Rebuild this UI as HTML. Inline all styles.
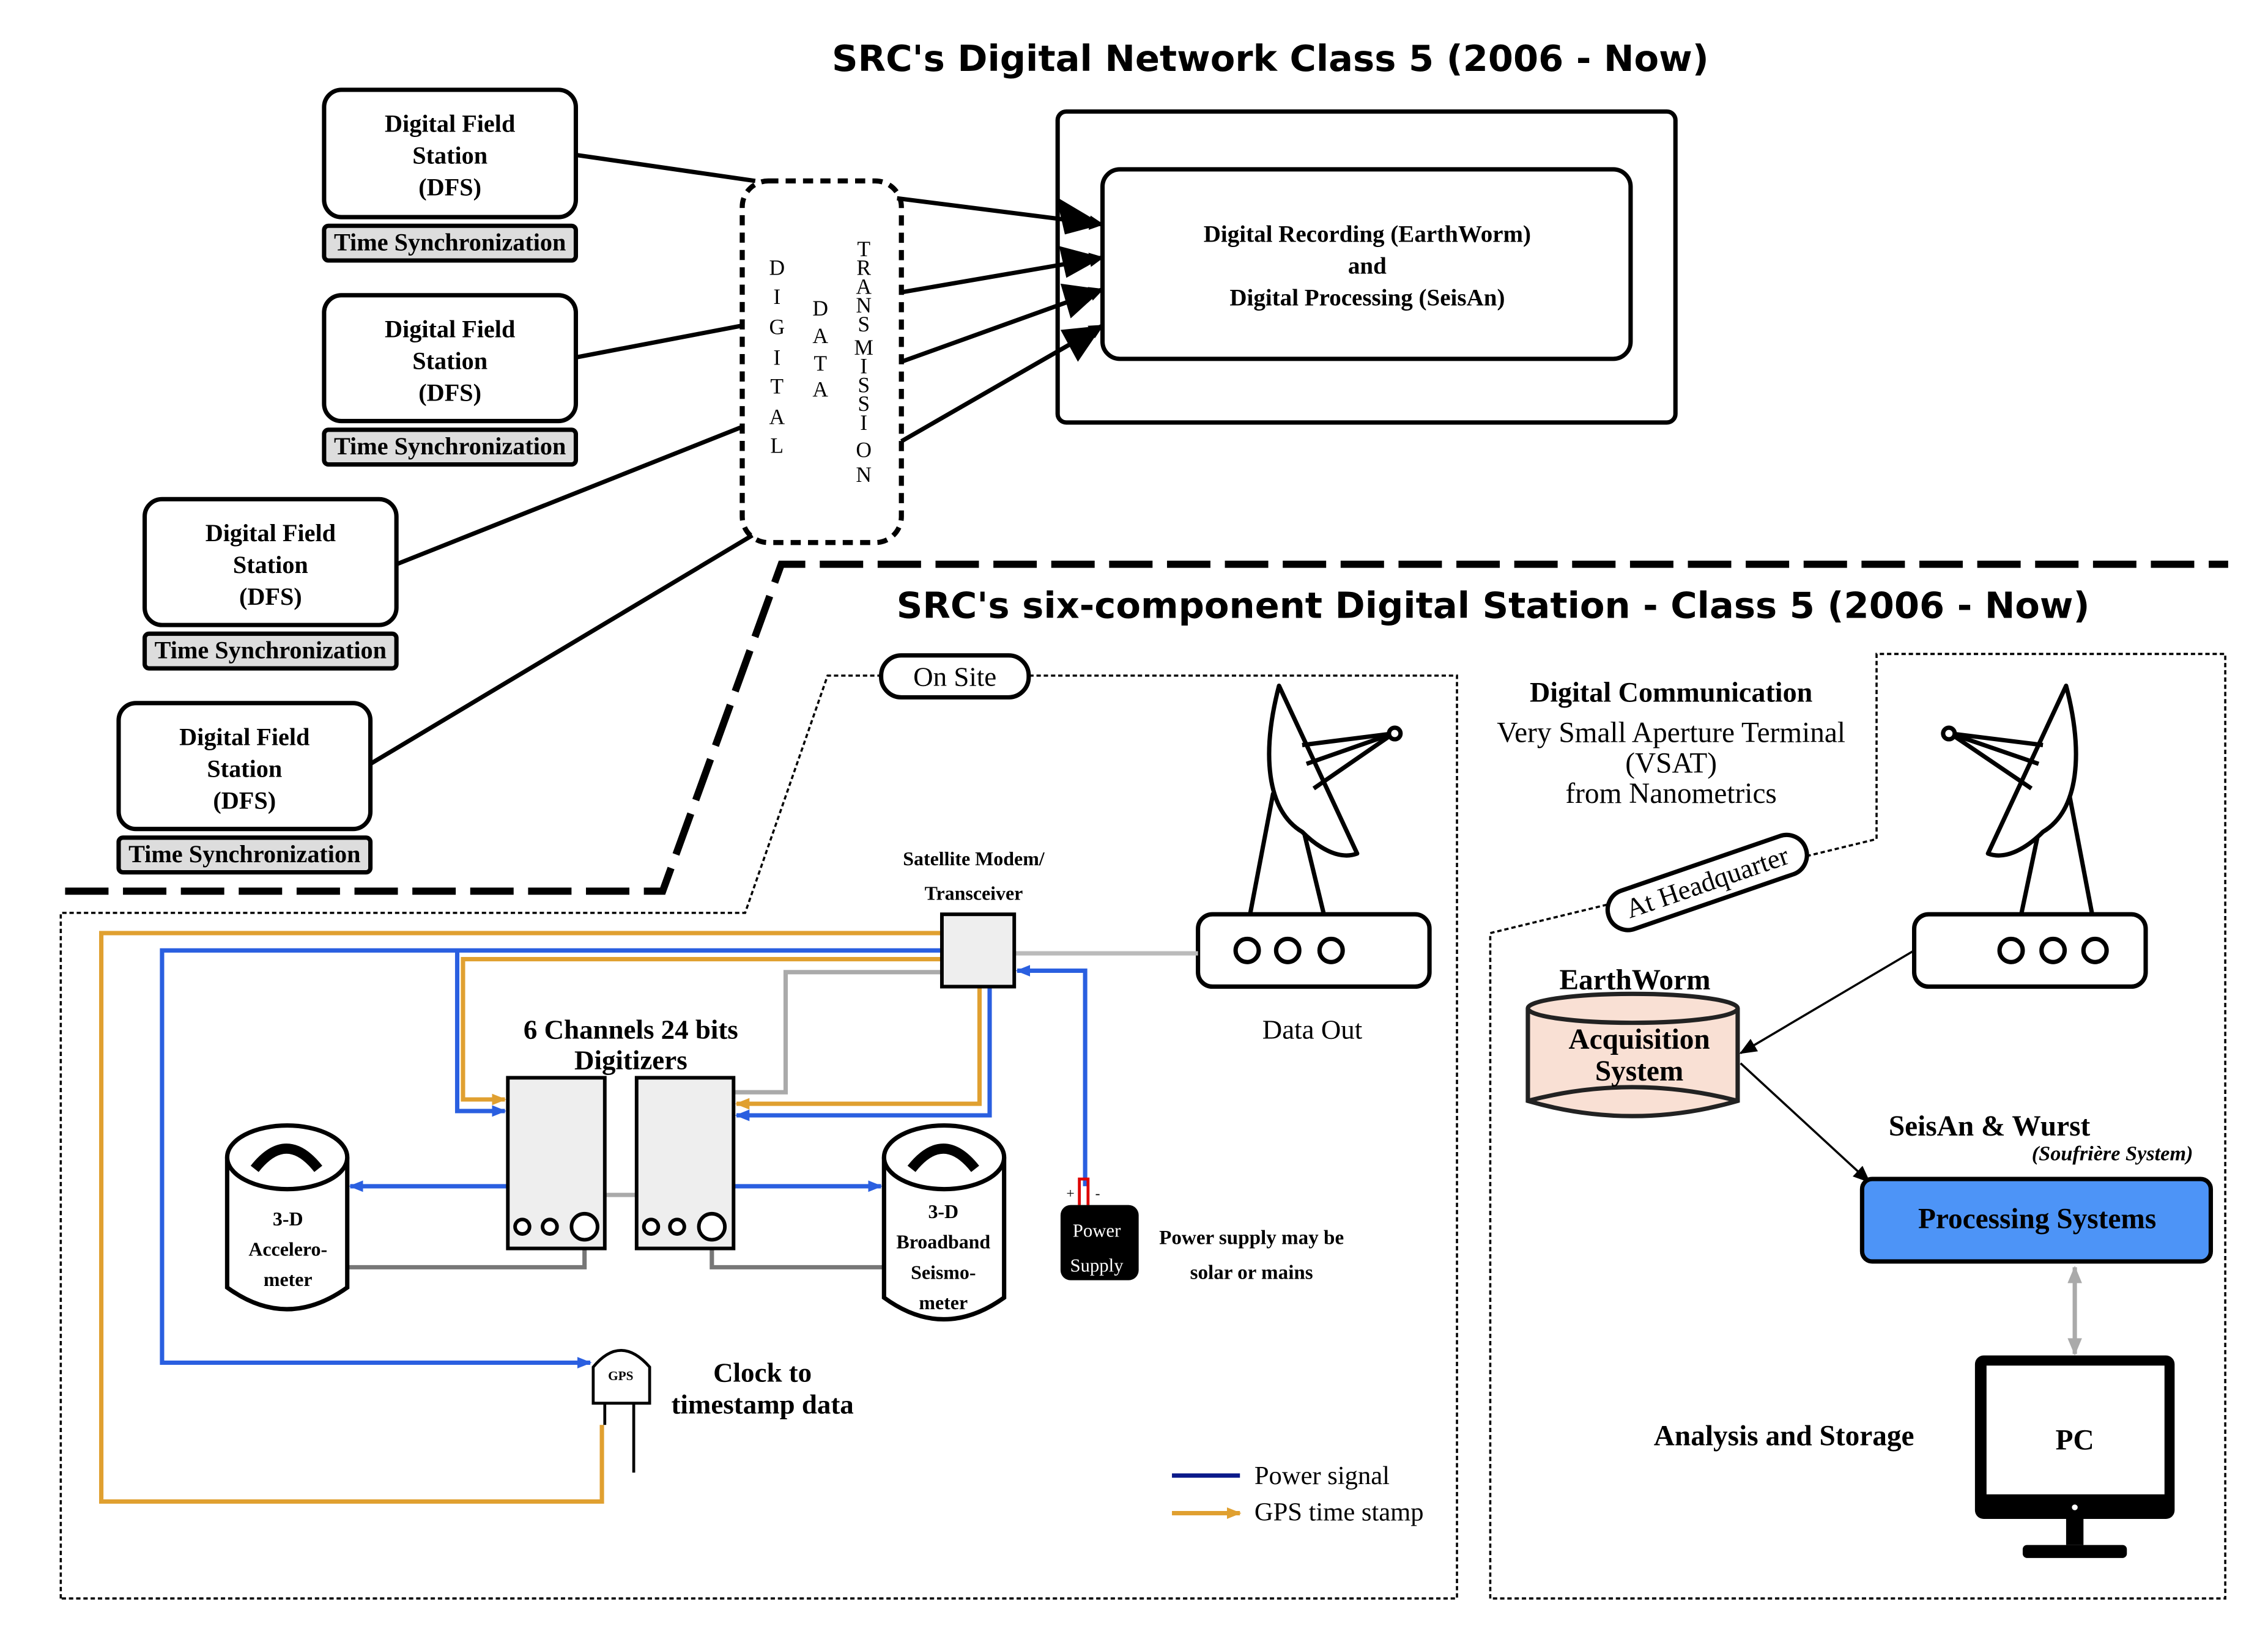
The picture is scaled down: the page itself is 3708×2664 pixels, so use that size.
<!DOCTYPE html>
<html><head><meta charset="utf-8"><style>
html,body{margin:0;padding:0;background:#fff;}
svg{display:block;}
.s{font-family:"Liberation Serif",serif;}
.b{font-weight:bold;}
.t{font-family:"DejaVu Sans","Liberation Sans",sans-serif;font-weight:bold;}
</style></head><body>
<svg width="3708" height="2664" viewBox="0 0 1555 1117" xmlns="http://www.w3.org/2000/svg">
<defs>
<marker id="big" markerWidth="10" markerHeight="10" refX="9" refY="5" orient="auto" markerUnits="userSpaceOnUse" viewBox="0 0 10 10"><path d="M0,0 L10,5 L0,10 z" fill="#000"/></marker>
<marker id="ab" markerWidth="10" markerHeight="8" refX="9" refY="4" orient="auto" markerUnits="userSpaceOnUse"><path d="M0,0 L10,4 L0,8 z" fill="#2a5fe0"/></marker>
<marker id="ao" markerWidth="10" markerHeight="8" refX="9" refY="4" orient="auto" markerUnits="userSpaceOnUse"><path d="M0,0 L10,4 L0,8 z" fill="#e0a030"/></marker>
<marker id="ak" markerWidth="12" markerHeight="10" refX="11" refY="5" orient="auto" markerUnits="userSpaceOnUse"><path d="M0,0 L12,5 L0,10 z" fill="#000"/></marker>
<marker id="ag" markerWidth="12" markerHeight="10" refX="11" refY="5" orient="auto-start-reverse" markerUnits="userSpaceOnUse"><path d="M0,0 L12,5 L0,10 z" fill="#aaa"/></marker>
</defs>
<g transform="scale(0.992)">
<text x="878" y="49" text-anchor="middle" class="t" font-size="25">SRC's Digital Network Class 5 (2006 - Now)</text>

<g class="s b" font-size="17" text-anchor="middle">
<rect x="224" y="62" width="174" height="88" rx="12" fill="#fff" stroke="#000" stroke-width="3"/>
<text x="311" y="91">Digital Field</text><text x="311" y="113">Station</text><text x="311" y="135">(DFS)</text>
<rect x="224" y="156" width="174" height="24" rx="3" fill="#ddd" stroke="#000" stroke-width="3"/>
<text x="311" y="173">Time Synchronization</text>

<rect x="224" y="204" width="174" height="87" rx="12" fill="#fff" stroke="#000" stroke-width="3"/>
<text x="311" y="233">Digital Field</text><text x="311" y="255">Station</text><text x="311" y="277">(DFS)</text>
<rect x="224" y="297" width="174" height="24" rx="3" fill="#ddd" stroke="#000" stroke-width="3"/>
<text x="311" y="314">Time Synchronization</text>

<rect x="100" y="345" width="174" height="87" rx="12" fill="#fff" stroke="#000" stroke-width="3"/>
<text x="187" y="374">Digital Field</text><text x="187" y="396">Station</text><text x="187" y="418">(DFS)</text>
<rect x="100" y="438" width="174" height="24" rx="3" fill="#ddd" stroke="#000" stroke-width="3"/>
<text x="187" y="455">Time Synchronization</text>

<rect x="82" y="486" width="174" height="87" rx="12" fill="#fff" stroke="#000" stroke-width="3"/>
<text x="169" y="515">Digital Field</text><text x="169" y="537">Station</text><text x="169" y="559">(DFS)</text>
<rect x="82" y="579" width="174" height="24" rx="3" fill="#ddd" stroke="#000" stroke-width="3"/>
<text x="169" y="596">Time Synchronization</text>
</g>

<rect x="513" y="125" width="110" height="250" rx="18" fill="none" stroke="#000" stroke-width="3.5" stroke-dasharray="7,5"/>
<g class="s" font-size="15" text-anchor="middle">
<text x="537" y="190">D</text><text x="537" y="210">I</text><text x="537" y="231">G</text><text x="537" y="252">I</text><text x="537" y="272">T</text><text x="537" y="293">A</text><text x="537" y="313">L</text>
<text x="567" y="218">D</text><text x="567" y="237">A</text><text x="567" y="256">T</text><text x="567" y="274">A</text>
<text x="597" y="177">T</text><text x="597" y="190">R</text><text x="597" y="203">A</text><text x="597" y="216">N</text><text x="597" y="229">S</text><text x="597" y="245">M</text><text x="597" y="258">I</text><text x="597" y="271">S</text><text x="597" y="284">S</text><text x="597" y="297">I</text><text x="597" y="316">O</text><text x="597" y="333">N</text>
</g>

<g stroke="#000" stroke-width="3" fill="none">
<line x1="398" y1="107" x2="522" y2="125"/>
<line x1="398" y1="247" x2="513" y2="225"/>
<line x1="274" y1="390" x2="513" y2="295"/>
<line x1="256" y1="528" x2="520" y2="370"/>
<line x1="620" y1="137" x2="762" y2="155" marker-end="url(#big)"/>
<line x1="623" y1="202" x2="762" y2="178" marker-end="url(#big)"/>
<line x1="623" y1="250" x2="762" y2="200" marker-end="url(#big)"/>
<line x1="623" y1="305" x2="762" y2="225" marker-end="url(#big)"/>
</g>
<g>
<polygon points="762,155 730,136 736,162" fill="#000"/>
<polygon points="762,178 732,170 737,192" fill="#000"/>
<polygon points="762,200 733,196 740,220" fill="#000"/>
<polygon points="762,225 733,228 745,250" fill="#000"/>
</g>

<rect x="731" y="77" width="427" height="215" rx="6" fill="none" stroke="#000" stroke-width="3"/>
<rect x="762" y="117" width="365" height="131" rx="12" fill="#fff" stroke="#000" stroke-width="3"/>
<g class="s b" font-size="16.5" text-anchor="middle">
<text x="945" y="167">Digital Recording (EarthWorm)</text>
<text x="945" y="189">and</text>
<text x="945" y="211">Digital Processing (SeisAn)</text>
</g>

<polyline points="45,616 458,616 540,390 1540,390" fill="none" stroke="#000" stroke-width="5" stroke-dasharray="30,10"/>

<text x="1032" y="427" text-anchor="middle" class="t" font-size="25">SRC's six-component Digital Station - Class 5 (2006 - Now)</text>

<polygon points="42,1105 42,631 515,631 572,467 1007,467 1007,1105" fill="none" stroke="#000" stroke-width="1.5" stroke-dasharray="3,2"/>
<polygon points="1030,1105 1030,645 1297,580 1297,452 1538,452 1538,1105" fill="none" stroke="#000" stroke-width="1.5" stroke-dasharray="3,2"/>
<rect x="609" y="453" width="102" height="29" rx="14" fill="#fff" stroke="#000" stroke-width="3"/>
<text x="660" y="474" text-anchor="middle" class="s" font-size="19">On Site</text>
<g transform="translate(1180,610) rotate(-19)">
<rect x="-72" y="-14" width="144" height="28" rx="14" fill="#fff" stroke="#000" stroke-width="3"/>
<text x="0" y="6" text-anchor="middle" class="s" font-size="19">At Headquarter</text>
</g>

<g stroke="#000" stroke-width="3" fill="#fff" stroke-linejoin="round">
<line x1="880" y1="548" x2="864" y2="632"/>
<line x1="900" y1="570" x2="915" y2="632"/>
<path d="M884,474 C872,520 875,560 900,575 C910,585 925,595 938,590 Z"/>
<line x1="900" y1="515" x2="963" y2="507"/>
<line x1="903" y1="528" x2="963" y2="507"/>
<line x1="908" y1="545" x2="963" y2="507"/>
<circle cx="964" cy="507" r="4"/>
<rect x="828" y="632" width="160" height="50" rx="10"/>
<circle cx="862" cy="657" r="8"/><circle cx="890" cy="657" r="8"/><circle cx="920" cy="657" r="8"/>
</g>
<text x="907" y="718" text-anchor="middle" class="s" font-size="19">Data Out</text>

<g stroke="#000" stroke-width="3" fill="#fff" stroke-linejoin="round">
<line x1="1430" y1="548" x2="1446" y2="632"/>
<line x1="1410" y1="570" x2="1397" y2="632"/>
<path d="M1428,474 C1440,520 1437,560 1412,575 C1402,585 1387,595 1374,590 Z"/>
<line x1="1412" y1="515" x2="1348" y2="507"/>
<line x1="1409" y1="528" x2="1348" y2="507"/>
<line x1="1404" y1="545" x2="1348" y2="507"/>
<circle cx="1347" cy="507" r="4"/>
<rect x="1323" y="632" width="160" height="50" rx="10"/>
<circle cx="1390" cy="657" r="8"/><circle cx="1419" cy="657" r="8"/><circle cx="1448" cy="657" r="8"/>
</g>

<g fill="none" stroke-width="3">
<polyline points="416,985 416,1038 70,1038 70,645 651,645" stroke="#e0a030"/>
<polyline points="651,663 320,663 320,760 349,760" stroke="#e0a030" marker-end="url(#ao)"/>
<polyline points="677,682 677,763 509,763" stroke="#e0a030" marker-end="url(#ao)"/>
<polyline points="651,657 112,657 112,942 408,942" stroke="#2a5fe0" marker-end="url(#ab)"/>
<polyline points="316,657 316,768 349,768" stroke="#2a5fe0" marker-end="url(#ab)"/>
<polyline points="684,682 684,771 509,771" stroke="#2a5fe0" marker-end="url(#ab)"/>
<polyline points="750,820 750,671 703,671" stroke="#2a5fe0" marker-end="url(#ab)"/>
<line x1="351" y1="820" x2="242" y2="820" stroke="#2a5fe0" marker-end="url(#ab)"/>
<line x1="507" y1="820" x2="609" y2="820" stroke="#2a5fe0" marker-end="url(#ab)"/>
<polyline points="651,672 543,672 543,755 507,755" stroke="#aaa"/>
<line x1="701" y1="659" x2="828" y2="659" stroke="#bbb"/>
<polyline points="380,843 380,826 450,826 450,843" stroke="#aaa"/>
<polyline points="240,876 404,876 404,858" stroke="#777"/>
<polyline points="492,858 492,876 611,876" stroke="#777"/>
</g>

<rect x="651" y="632" width="50" height="50" fill="#eee" stroke="#000" stroke-width="2.5"/>
<g class="s b" font-size="13.5" text-anchor="middle">
<text x="673" y="598">Satellite Modem/</text><text x="673" y="622">Transceiver</text>
</g>

<text x="436" y="718" text-anchor="middle" class="s b" font-size="19">6 Channels 24 bits</text>
<text x="436" y="739" text-anchor="middle" class="s b" font-size="19">Digitizers</text>
<g stroke="#000" stroke-width="2.5" fill="#eee">
<rect x="351" y="745" width="67" height="118"/>
<rect x="440" y="745" width="67" height="118"/>
<circle cx="361" cy="848" r="5" fill="#fff"/><circle cx="380" cy="848" r="5" fill="#fff"/><circle cx="404" cy="848" r="9" fill="#fff"/>
<circle cx="450" cy="848" r="5" fill="#fff"/><circle cx="468" cy="848" r="5" fill="#fff"/><circle cx="492" cy="848" r="9" fill="#fff"/>
</g>

<g stroke="#000" stroke-width="3" fill="#fff">
<path d="M157,800 L157,890 Q198,920 240,890 L240,800"/>
<ellipse cx="198.5" cy="800" rx="41.5" ry="22"/>
<path d="M176,808 Q198,780 220,808" stroke-width="7" fill="none"/>
<path d="M611,800 L611,897 Q652,927 694,897 L694,800"/>
<ellipse cx="652.5" cy="800" rx="41.5" ry="22"/>
<path d="M630,808 Q652,780 674,808" stroke-width="7" fill="none"/>
</g>
<g class="s b" font-size="13.5" text-anchor="middle">
<text x="199" y="847">3-D</text><text x="199" y="868">Accelero-</text><text x="199" y="889">meter</text>
<text x="652" y="842">3-D</text><text x="652" y="863">Broadband</text><text x="652" y="884">Seismo-</text><text x="652" y="905">meter</text>
</g>

<polyline points="746,833 746,815 752,815 752,833" fill="none" stroke="#d00" stroke-width="2"/>
<text x="737" y="828" class="s" font-size="10">+</text><text x="757" y="828" class="s" font-size="10">-</text>
<rect x="733" y="833" width="54" height="52" rx="7" fill="#000"/>
<text x="758" y="855" text-anchor="middle" class="s" font-size="13" fill="#fff">Power</text>
<text x="758" y="879" text-anchor="middle" class="s" font-size="13" fill="#fff">Supply</text>
<text x="865" y="860" text-anchor="middle" class="s b" font-size="14">Power supply may be</text>
<text x="865" y="884" text-anchor="middle" class="s b" font-size="14">solar or mains</text>

<g stroke="#000" stroke-width="2" fill="#fff">
<line x1="438" y1="968" x2="438" y2="1018"/>
<line x1="418" y1="968" x2="418" y2="985"/>
<path d="M410,970 L410,945 Q429,922 449,945 L449,970 Z"/>
</g>
<text x="429" y="954" text-anchor="middle" class="s b" font-size="9">GPS</text>
<text x="527" y="955" text-anchor="middle" class="s b" font-size="19">Clock to</text>
<text x="527" y="977" text-anchor="middle" class="s b" font-size="19">timestamp data</text>

<line x1="810" y1="1020" x2="857" y2="1020" stroke="#0a1a8a" stroke-width="3"/>
<line x1="810" y1="1046" x2="857" y2="1046" stroke="#e0a030" stroke-width="3" marker-end="url(#ao)"/>
<text x="867" y="1026" class="s" font-size="18">Power signal</text>
<text x="867" y="1051" class="s" font-size="18">GPS time stamp</text>

<text x="1155" y="485" text-anchor="middle" class="s b" font-size="19.5">Digital Communication</text>
<g class="s" font-size="20" text-anchor="middle">
<text x="1155" y="513">Very Small Aperture Terminal</text>
<text x="1155" y="534">(VSAT)</text>
<text x="1155" y="555">from Nanometrics</text>
</g>
<text x="1130" y="684" text-anchor="middle" class="s b" font-size="20">EarthWorm</text>
<g stroke="#222" stroke-width="3" fill="#f9e0d4">
<path d="M1056,697 L1056,761 Q1128,782 1201,761 L1201,697"/>
<ellipse cx="1128.5" cy="697" rx="72.5" ry="10"/>
<path d="M1056,761 Q1128,742 1201,761" fill="none"/>
</g>
<text x="1133" y="725" text-anchor="middle" class="s b" font-size="20">Acquisition</text>
<text x="1133" y="747" text-anchor="middle" class="s b" font-size="20">System</text>
<line x1="1323" y1="657" x2="1203" y2="728" stroke="#000" stroke-width="1.5" marker-end="url(#ak)"/>
<line x1="1203" y1="735" x2="1292" y2="817" stroke="#000" stroke-width="1.5" marker-end="url(#ak)"/>
<text x="1375" y="785" text-anchor="middle" class="s b" font-size="20">SeisAn &amp; Wurst</text>
<text x="1460" y="802" text-anchor="middle" class="s b" font-size="14.5" font-style="italic">(Soufrière System)</text>
<rect x="1287" y="815" width="241" height="57" rx="7" fill="#4d94f7" stroke="#000" stroke-width="3"/>
<text x="1408" y="849" text-anchor="middle" class="s b" font-size="20">Processing Systems</text>
<line x1="1434" y1="876" x2="1434" y2="936" stroke="#aaa" stroke-width="3" marker-start="url(#ag)" marker-end="url(#ag)"/>
<rect x="1365" y="937" width="138" height="113" rx="6" fill="#000"/>
<rect x="1373" y="944" width="123" height="89" fill="#fff"/>
<circle cx="1434" cy="1042" r="2" fill="#fff"/>
<rect x="1428" y="1050" width="12" height="18" fill="#000"/>
<rect x="1398" y="1068" width="72" height="9" rx="3" fill="#000"/>
<text x="1434" y="1002" text-anchor="middle" class="s b" font-size="20">PC</text>
<text x="1233" y="999" text-anchor="middle" class="s b" font-size="20">Analysis and Storage</text>
</g>
</svg>
</body></html>
